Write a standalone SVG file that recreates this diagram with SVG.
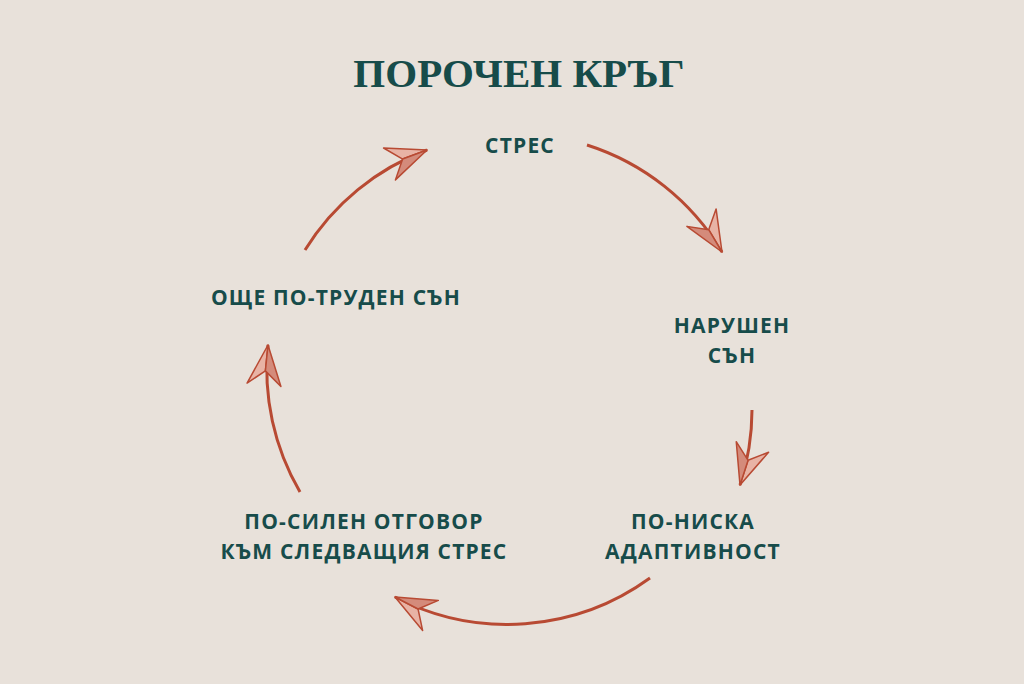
<svg xmlns="http://www.w3.org/2000/svg" width="1024" height="684" viewBox="0 0 1024 684">
<style>
.t{font-family:"Open Sans","Liberation Sans",sans-serif;font-weight:bold;font-size:21px;letter-spacing:1.2px;fill:#174c4a;text-anchor:middle}
.a{fill:none;stroke:#b84a33;stroke-width:3;marker-end:url(#h)}
</style>
<defs>
<marker id="h" markerUnits="userSpaceOnUse" markerWidth="60" markerHeight="60" refX="50" refY="30" orient="auto" overflow="visible">
<g transform="translate(50,30)">
<path d="M0,0 L-40,-17 L-26,0 Z" fill="#e8b3a5" stroke="#b84a33" stroke-width="1.5" stroke-linejoin="round"/>
<path d="M0,0 L-40,17 L-26,0 Z" fill="#d48b7b" stroke="#b84a33" stroke-width="1.5" stroke-linejoin="round"/>
</g>
</marker>
</defs>
<rect width="1024" height="684" fill="#e8e1da"/>
<text x="519" y="87" font-family="'Liberation Serif',serif" font-weight="bold" font-size="41" fill="#174c4a" text-anchor="middle">ПОРОЧЕН КРЪГ</text>
<g id="connectors">
<path class="a" d="M587,145 A243,243 0 0 1 722,252"/>
<path class="a" d="M752,410 A243,243 0 0 1 740,485"/>
<path class="a" d="M650,578 A243,243 0 0 1 395,597"/>
<path class="a" d="M300,492 A243,243 0 0 1 268,345"/>
<path class="a" d="M305,250 A243,243 0 0 1 427,150"/>
</g>
<g id="n1"><text class="t" x="520" y="153">СТРЕС</text></g>
<g id="n2"><text class="t" x="732" y="333">НАРУШЕН</text><text class="t" x="732" y="363">СЪН</text></g>
<g id="n3"><text class="t" x="693" y="529">ПО-НИСКА</text><text class="t" x="693" y="559">АДАПТИВНОСТ</text></g>
<g id="n4"><text class="t" x="364" y="529">ПО-СИЛЕН ОТГОВОР</text><text class="t" x="364" y="559">КЪМ СЛЕДВАЩИЯ СТРЕС</text></g>
<g id="n5"><text class="t" x="336" y="305">ОЩЕ ПО-ТРУДЕН СЪН</text></g>
</svg>
